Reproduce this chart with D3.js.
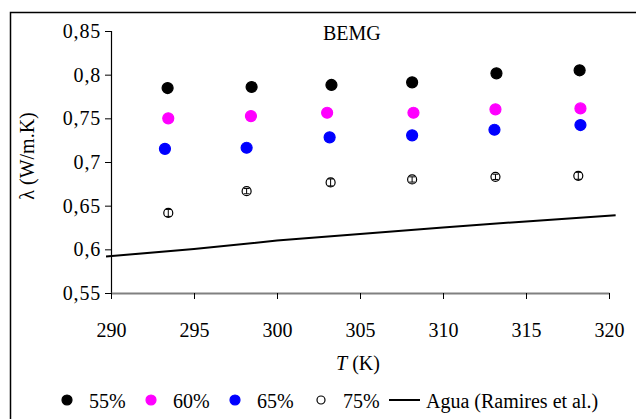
<!DOCTYPE html>
<html>
<head>
<meta charset="utf-8">
<script src="https://cdn.jsdelivr.net/npm/d3@7"></script>
<style>
  body { margin: 0; background: #fff; }
  svg { display: block; }
  svg text { font-family: "Liberation Serif", "Times New Roman", Times, serif !important; }
</style>
</head>
<body>
<svg id="chart" width="636" height="419"></svg>
<script>
// Temperatures (K) read per series
const temp55 = [293.41, 298.47, 303.28, 308.14, 313.22, 318.23];
const temp60 = [293.45, 298.43, 303.02, 308.22, 313.16, 318.28];
const temp65 = [293.25, 298.17, 303.17, 308.14, 313.10, 318.28];
const temp75 = [293.45, 298.17, 303.23, 308.14, 313.16, 318.15];

// Thermal conductivity (W/m.K)
const k55 = [0.7847, 0.7859, 0.7882, 0.7912, 0.8015, 0.8050];
const k60 = [0.7500, 0.7526, 0.7564, 0.7564, 0.7603, 0.7614];
const k65 = [0.7151, 0.7163, 0.7282, 0.7305, 0.7369, 0.7423];
const k75 = [0.6417, 0.6666, 0.6766, 0.6800, 0.6830, 0.6842];

// Small error bars
const err55 = [0.004, 0.004, 0.004, 0.005, 0.003, 0.005];
const err60 = [0.003, 0.003, 0.003, 0.003, 0.003, 0.003];
const err65 = [0.003, 0.003, 0.003, 0.003, 0.003, 0.003];
const err75 = [0.004, 0.003, 0.004, 0.003, 0.003, 0.004];

// Water line (Ramires et al.)
const waterT = [289.7, 295, 300, 305, 310, 315, 320.4];
const waterK = [0.5917, 0.6005, 0.6100, 0.6175, 0.6250, 0.6320, 0.6390];

const xTicks = [290, 295, 300, 305, 310, 315, 320];
const yTicks = [0.55, 0.6, 0.65, 0.7, 0.75, 0.8, 0.85];

const series = [
  { label: "55%", t: temp55, k: k55, e: err55, fill: "#000000", stroke: "#000000" },
  { label: "60%", t: temp60, k: k60, e: err60, fill: "#ff00ff", stroke: "#ff00ff" },
  { label: "65%", t: temp65, k: k65, e: err65, fill: "#0000ff", stroke: "#0000ff" },
  { label: "75%", t: temp75, k: k75, e: err75, fill: "#ffffff", stroke: "#000000" }
];

const svg = d3.select("#chart");

// Outer frame (right/bottom edges fall outside the picture)
svg.append("rect")
  .attr("x", 10.5).attr("y", 12.5)
  .attr("width", 640).attr("height", 420)
  .attr("fill", "none").attr("stroke", "#000").attr("stroke-width", 1.5);

const x = d3.scaleLinear().domain([290, 320]).range([111, 609]);
const y = d3.scaleLinear().domain([0.55, 0.85]).range([293, 31]);

const locale = d3.formatLocale({ decimal: ",", thousands: ".", grouping: [3], currency: ["", ""] });
const fmt = (d) => locale.format("")(+d.toFixed(2));

// Y axis
const yAxis = svg.append("g")
  .attr("transform", "translate(111,0)")
  .call(d3.axisLeft(y).tickValues(yTicks).tickSize(6).tickPadding(4).tickFormat(fmt));
yAxis.select(".domain").attr("stroke", "#000").attr("stroke-width", 1.2);
yAxis.selectAll(".tick line").attr("stroke", "#000");
yAxis.selectAll(".tick text")
  .attr("font-size", 20).attr("fill", "#000")
  .attr("letter-spacing", "0.8px");

// X axis
const xAxis = svg.append("g")
  .attr("transform", "translate(0,293)")
  .call(d3.axisBottom(x).tickValues(xTicks).tickSize(6).tickSizeOuter(0).tickPadding(24).tickFormat(d3.format("d")));
xAxis.select(".domain").attr("stroke", "#808080").attr("stroke-width", 2);
xAxis.selectAll(".tick line").attr("stroke", "#000");
xAxis.selectAll(".tick text")
  .attr("font-size", 20).attr("fill", "#000");

// Water line
const line = d3.line().x((d) => x(d[0])).y((d) => y(d[1]));
svg.append("path")
  .datum(d3.zip(waterT, waterK))
  .attr("d", line)
  .attr("fill", "none").attr("stroke", "#000").attr("stroke-width", 2);

// Points with error bars
series.forEach((s) => {
  const pts = d3.zip(s.t, s.k, s.e);
  const g = svg.append("g");
  g.selectAll(".err")
    .data(pts).enter().append("path")
    .attr("d", (d) => {
      const cx = x(d[0]), y1 = y(d[1] + d[2]), y2 = y(d[1] - d[2]);
      return `M${cx},${y1}V${y2}M${cx - 3},${y1}H${cx + 3}M${cx - 3},${y2}H${cx + 3}`;
    })
    .attr("stroke", s.stroke).attr("stroke-width", 1).attr("fill", "none");
  g.selectAll("circle")
    .data(pts).enter().append("circle")
    .attr("cx", (d) => x(d[0]))
    .attr("cy", (d) => y(d[1]))
    .attr("r", s.fill === "#ffffff" ? 4.5 : 5.5)
    .attr("fill", s.fill === "#ffffff" ? "none" : s.fill)
    .attr("stroke", s.stroke).attr("stroke-width", 1.2);
});

// Title
svg.append("text")
  .attr("x", 323).attr("y", 40)
  .attr("font-size", 20).attr("fill", "#000")
  .text("BEMG");

// Axis titles
svg.append("text")
  .attr("transform", "translate(34,156) rotate(-90)")
  .attr("text-anchor", "middle")
  .attr("font-size", 20).attr("fill", "#000")
  .text("λ (W/m.K)");

const xt = svg.append("text")
  .attr("x", 358).attr("y", 370)
  .attr("text-anchor", "middle")
  .attr("font-size", 20).attr("fill", "#000");
xt.append("tspan").attr("font-style", "italic").text("T");
xt.append("tspan").text(" (K)");

// Legend
const legY = 400;
const legX = [67, 151, 235, 321];
series.forEach((s, i) => {
  svg.append("circle")
    .attr("cx", legX[i]).attr("cy", legY)
    .attr("r", s.fill === "#ffffff" ? 4 : 5)
    .attr("fill", s.fill === "#ffffff" ? "none" : s.fill)
    .attr("stroke", s.stroke).attr("stroke-width", 1.2);
  svg.append("text")
    .attr("x", legX[i] + 22).attr("y", legY + 8)
    .attr("font-size", 20).attr("fill", "#000")
    .text(s.label);
});
svg.append("line")
  .attr("x1", 389).attr("x2", 420)
  .attr("y1", legY).attr("y2", legY)
  .attr("stroke", "#000").attr("stroke-width", 2);
svg.append("text")
  .attr("x", 426).attr("y", legY + 8)
  .attr("font-size", 20).attr("fill", "#000")
  .text("Agua (Ramires et al.)");
</script>
</body>
</html>
